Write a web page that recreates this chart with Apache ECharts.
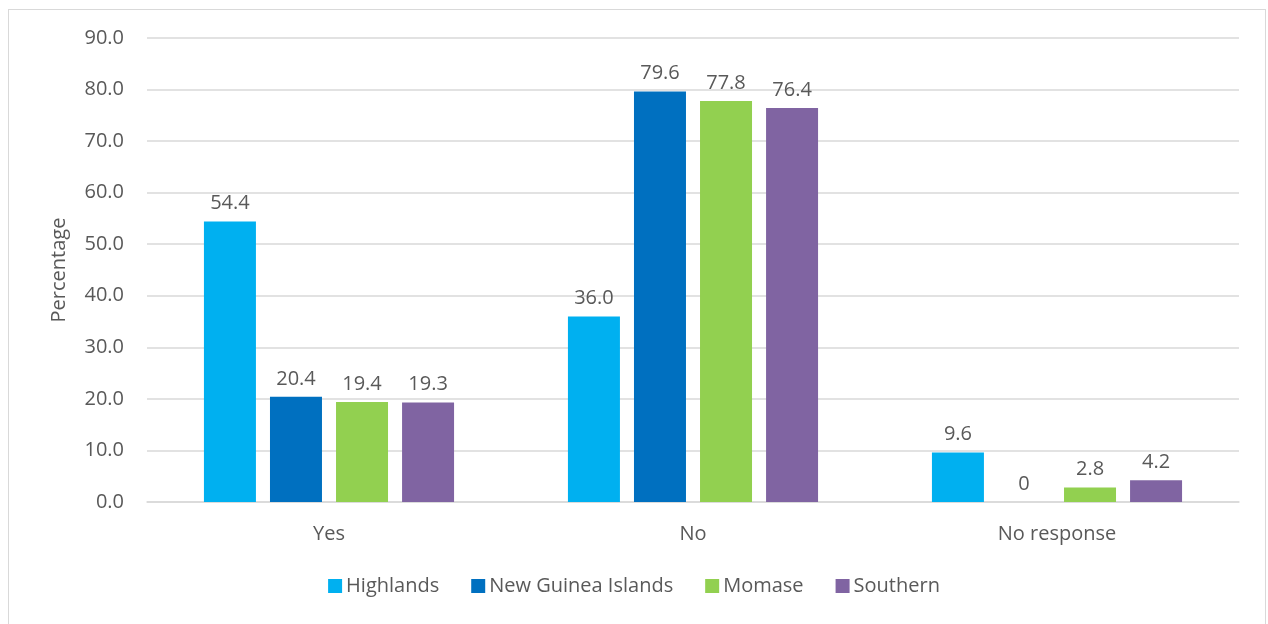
<!DOCTYPE html>
<html>
<head>
<meta charset="utf-8">
<script src="https://cdn.jsdelivr.net/npm/echarts@6/dist/echarts.min.js"></script>
<style>
  html, body { margin: 0; padding: 0; background: #fff; }
  #chart { width: 1268px; height: 624px; }
  .frame { position: absolute; left: 8px; top: 9px; width: 1258px; height: 640px; border: 1px solid #d9d9d9; box-sizing: border-box; pointer-events: none; }
</style>
</head>
<body>
<div id="chart"></div>
<div class="frame"></div>
<script>
const categories = ["Yes", "No", "No response"];
const highlands = [54.4, 36.0, 9.6];
const newGuinea = [20.4, 79.6, 0];
const momase = [19.4, 77.8, 2.8];
const southern = [19.3, 76.4, 4.2];
const seriesNames = ["Highlands", "New Guinea Islands", "Momase", "Southern"];
const colors = ["#00b0f0", "#0070c0", "#92d050", "#8064a2"];

const font = "'Open Sans', 'Noto Sans', sans-serif";
const textColor = "#595959";
const fs = 20;

function bar(name, data) {
  return {
    name: name,
    type: "bar",
    data: data,
    barWidth: 52,
    barGap: "27%",
    label: {
      show: true,
      position: "top",
      distance: 8,
      color: textColor,
      fontFamily: font,
      fontSize: fs,
      formatter: (p) => (p.value === 0 ? "0" : p.value.toFixed(1)),
    },
  };
}

const chart = echarts.init(document.getElementById("chart"));
chart.setOption({
  animation: false,
  color: colors,
  textStyle: { fontFamily: font },
  grid: { left: 147, right: 29, top: 38, bottom: 122 },
  legend: {
    bottom: 23,
    left: "center",
    itemWidth: 14,
    itemHeight: 14,
    itemGap: 32,
    icon: "rect",
    textStyle: { color: textColor, fontSize: fs, fontFamily: font, padding: [0, 0, 0, -1] },
    data: seriesNames,
  },
  xAxis: {
    type: "category",
    data: categories,
    axisTick: { show: false },
    axisLine: { lineStyle: { color: "#d9d9d9", width: 1.5 } },
    axisLabel: { color: textColor, fontSize: fs, margin: 22, fontFamily: font },
  },
  yAxis: {
    type: "value",
    min: 0,
    max: 90,
    interval: 10,
    name: "Percentage",
    nameLocation: "middle",
    nameGap: 78,
    nameTextStyle: { color: textColor, fontSize: fs, fontFamily: font },
    axisLabel: {
      color: textColor,
      fontSize: fs,
      margin: 23,
      fontFamily: font,
      formatter: (v) => v.toFixed(1),
    },
    splitLine: { lineStyle: { color: "#d9d9d9", width: 1.5 } },
  },
  series: [
    bar(seriesNames[0], highlands),
    bar(seriesNames[1], newGuinea),
    bar(seriesNames[2], momase),
    bar(seriesNames[3], southern),
  ],
});
</script>
</body>
</html>
